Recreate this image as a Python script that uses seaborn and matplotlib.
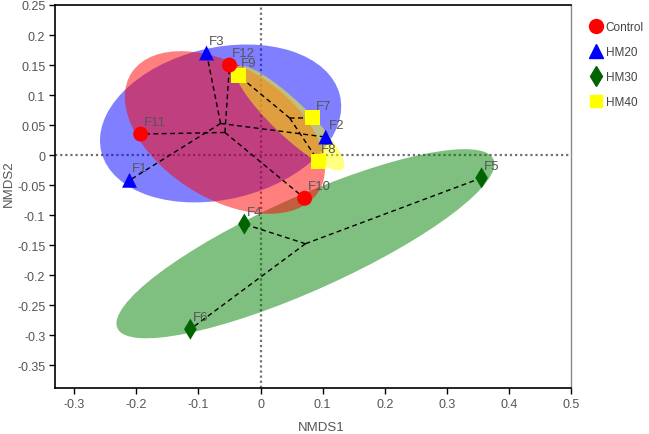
import numpy as np
import pandas as pd
import matplotlib
matplotlib.use("Agg")
import matplotlib.pyplot as plt
import seaborn as sns
from matplotlib.patches import Ellipse
from matplotlib.lines import Line2D

# ---- data ----
samples = ["F1", "F2", "F3", "F4", "F5", "F6", "F7", "F8", "F9", "F10", "F11", "F12"]
groups = ["HM20", "HM20", "HM20", "HM30", "HM30", "HM30",
          "HM40", "HM40", "HM40", "Control", "Control", "Control"]
nmds1 = [-0.211, 0.105, -0.087, -0.026, 0.356, -0.113, 0.084, 0.093, -0.036, 0.071, -0.193, -0.050]
nmds2 = [-0.042, 0.030, 0.170, -0.115, -0.038, -0.290, 0.062, -0.010, 0.133, -0.072, 0.035, 0.150]
group_order = ["Control", "HM20", "HM30", "HM40"]
xticks = [-0.3, -0.2, -0.1, 0, 0.1, 0.2, 0.3, 0.4, 0.5]
yticks = [-0.35, -0.3, -0.25, -0.2, -0.15, -0.1, -0.05, 0, 0.05, 0.1, 0.15, 0.2, 0.25]
xticklabels = ["-0.3", "-0.2", "-0.1", "0", "0.1", "0.2", "0.3", "0.4", "0.5"]
yticklabels = ["-0.35", "-0.3", "-0.25", "-0.2", "-0.15", "-0.1", "-0.05", "0",
               "0.05", "0.1", "0.15", "0.2", "0.25"]

df = pd.DataFrame({"sample": samples, "group": groups, "NMDS1": nmds1, "NMDS2": nmds2})

# ---- style ----
sns.set_style("white")
plt.rcParams["font.family"] = ["Liberation Sans", "DejaVu Sans"]

marker_colors = {"Control": "#ff0000", "HM20": "#0000ff", "HM30": "#006400", "HM40": "#ffff00"}
fill_colors = {"Control": "#ff0000", "HM20": "#0000ff", "HM30": "#008000", "HM40": "#ffff00"}
markers = {"Control": "o", "HM20": "^", "HM30": "d", "HM40": "s"}
z_order = {"HM30": 2, "HM20": 3, "Control": 4, "HM40": 5}

fig = plt.figure(figsize=(6.49, 4.35), dpi=100)
ax = fig.add_axes([55 / 649, 46 / 435, 516 / 649, 383 / 435])

# zero reference lines (below ellipses)
ax.axhline(0, color="#707070", lw=1.6, ls=(0, (1, 1.3)), zorder=1)
ax.axvline(0, color="#707070", lw=1.6, ls=(0, (1, 1.3)), zorder=1)

# ellipses and spider lines
k = 1.22
for g in group_order:
    sub = df[df.group == g]
    pts = sub[["NMDS1", "NMDS2"]].to_numpy()
    c = pts.mean(axis=0)
    cov = np.cov(pts, rowvar=False)
    vals, vecs = np.linalg.eigh(cov)
    order = vals.argsort()[::-1]
    vals, vecs = vals[order], vecs[:, order]
    ang = np.degrees(np.arctan2(vecs[1, 0], vecs[0, 0]))
    e = Ellipse(c, 2 * k * np.sqrt(vals[0]), 2 * k * np.sqrt(vals[1]), angle=ang,
                facecolor=fill_colors[g], alpha=0.5, edgecolor="none", zorder=z_order[g])
    ax.add_patch(e)
    for p in pts:
        ax.plot([c[0], p[0]], [c[1], p[1]], color="black", lw=1.0,
                ls=(0, (3.5, 2.5)), zorder=6)

# points
sns.scatterplot(data=df, x="NMDS1", y="NMDS2", hue="group", style="group",
                hue_order=group_order, style_order=group_order,
                palette=marker_colors, markers=markers, s=115, linewidth=0,
                ax=ax, zorder=7, legend=False)

for _, r in df.iterrows():
    ax.annotate(r["sample"], (r["NMDS1"], r["NMDS2"]), xytext=(2, 4.5),
                textcoords="offset points", ha="left", va="bottom",
                fontsize=9.5, color="#555555", zorder=8)

ax.set_xlim(-0.331, 0.5)
ax.set_ylim(-0.388, 0.25)
ax.set_xticks(xticks)
ax.set_xticklabels(xticklabels)
ax.set_yticks(yticks)
ax.set_yticklabels(yticklabels)
ax.tick_params(axis="both", direction="out", length=4, width=1, color="black",
               labelsize=9, labelcolor="#555555", pad=3,
               bottom=True, left=True)
for s in ["left", "bottom", "top"]:
    ax.spines[s].set_color("black")
    ax.spines[s].set_linewidth(1.2)
ax.spines["right"].set_color("#888888")
ax.spines["right"].set_linewidth(1.0)

ax.set_xlabel("NMDS1", fontsize=9.5, color="#555555")
ax.set_ylabel("NMDS2", fontsize=9.5, color="#555555")
ax.xaxis.set_label_coords(0.516, -0.086)
ax.yaxis.set_label_coords(-0.077, 0.535)

# legend
handles = [Line2D([], [], marker=markers[g], color=marker_colors[g], linestyle="none",
                  markersize=10 if g != "HM40" else 9) for g in group_order]
leg = fig.legend(handles, group_order, loc="upper left",
                 bbox_to_anchor=(582 / 649, 1 - 17 / 435),
                 frameon=False, fontsize=8.5, labelspacing=1.12, handletextpad=0.1,
                 borderaxespad=0, handlelength=1.5)
for t in leg.get_texts():
    t.set_color("#444444")

fig.savefig("out.png", dpi=100)
